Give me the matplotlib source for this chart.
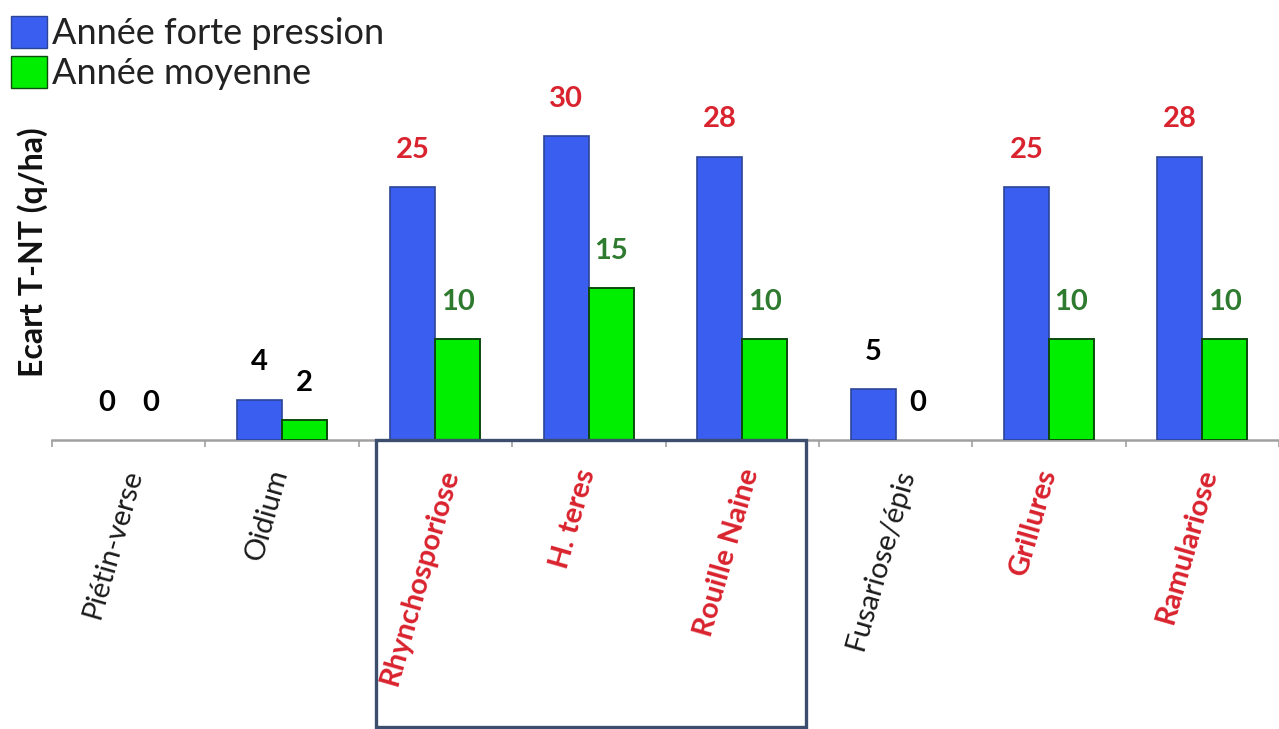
import numpy as np
import matplotlib
matplotlib.use("Agg")
import matplotlib.pyplot as plt
from matplotlib.patches import Rectangle, Patch
import matplotlib.transforms as mtransforms

plt.rcParams['font.family'] = ['Lato', 'DejaVu Sans']

# data
categories = ['Piétin-verse', 'Oidium', 'Rhynchosporiose', 'H. teres', 'Rouille Naine',
              'Fusariose/épis', 'Grillures', 'Ramulariose']
forte_pression = [0, 4, 25, 30, 28, 5, 25, 28]
moyenne = [0, 2, 10, 15, 10, 0, 10, 10]
highlighted = [False, False, True, True, True, False, True, True]

RED = '#d9232e'
DARK_GREEN = '#2e7a2e'
BLUE = '#3a5ff0'
GREEN = '#00ee00'

fig = plt.figure(figsize=(12.79, 7.29), dpi=100)
ax = fig.add_axes([52 / 1279, (729 - 440) / 729, (1279 - 52) / 1279, 360 / 729])

x = np.arange(len(categories))
w = 0.293
lw1 = [1.2 if v > 0 else 0 for v in forte_pression]
lw2 = [1.4 if v > 0 else 0 for v in moyenne]
ax.bar(x - w / 2, forte_pression, w, color=BLUE, edgecolor='#2c4496', linewidth=lw1, zorder=3)
ax.bar(x + w / 2, moyenne, w, color=GREEN, edgecolor='#0d4a0d', linewidth=lw2, zorder=3)

ax.set_xlim(-0.5, len(categories) - 0.5)
ax.set_ylim(0, 360 / 10.12)

for s in ['top', 'right', 'left']:
    ax.spines[s].set_visible(False)
ax.spines['bottom'].set_color('#a0a0a0')
ax.spines['bottom'].set_linewidth(1.8)
ax.set_yticks([])
ax.set_xticks([])
ax.set_xticks(np.arange(-0.5, len(categories)), minor=True)
ax.tick_params(axis='x', which='minor', length=5, width=1.2, color='#a0a0a0', labelbottom=False)

# value labels
for i in range(len(categories)):
    c1 = RED if highlighted[i] and forte_pression[i] > 0 else 'black'
    c2 = DARK_GREEN if highlighted[i] and moyenne[i] > 0 else 'black'
    ax.annotate(str(forte_pression[i]), (x[i] - w / 2, forte_pression[i]), xytext=(0, 21),
                textcoords='offset points', ha='center', va='baseline',
                fontsize=21, fontweight='bold', color=c1)
    ax.annotate(str(moyenne[i]), (x[i] + w / 2, moyenne[i]), xytext=(0, 21),
                textcoords='offset points', ha='center', va='baseline',
                fontsize=21, fontweight='bold', color=c2)

# category labels
lab_tr = mtransforms.blended_transform_factory(ax.transData, fig.transFigure)
for i, name in enumerate(categories):
    ax.text(x[i] - 0.1, (729 - 466) / 729, name, transform=lab_tr, rotation=74,
            ha='center', va='top', fontsize=21, style='normal',
            color=RED if highlighted[i] else '#1a1a1a',
            fontweight='bold' if highlighted[i] else 'normal')

# box around the three central diseases
y_bot, y_top = 2 / 729, (729 - 440) / 729
box = Rectangle((1.612, y_bot), 4.415 - 1.612, y_top - y_bot, transform=lab_tr,
                fill=False, edgecolor='#3c4d6e', linewidth=2.4, clip_on=False, zorder=4)
ax.add_patch(box)

fig.text(33 / 1279, (729 - 252) / 729, 'Ecart T-NT (q/ha)', rotation=90, ha='center', va='center',
         fontsize=23, fontweight='bold', color='#111111')

handles = [Patch(facecolor=BLUE, edgecolor='#2c4496'), Patch(facecolor=GREEN, edgecolor='#0d4a0d')]
fig.legend(handles, ['Année forte pression', 'Année moyenne'], loc='upper left',
           bbox_to_anchor=(0.0, 1 - 5 / 729), frameon=False, fontsize=26, handlelength=1.0,
           handleheight=1.0, handletextpad=0.15, labelspacing=0.15, borderpad=0.2,
           borderaxespad=0.1, labelcolor='#222222')

fig.savefig('out.png', dpi=100)
